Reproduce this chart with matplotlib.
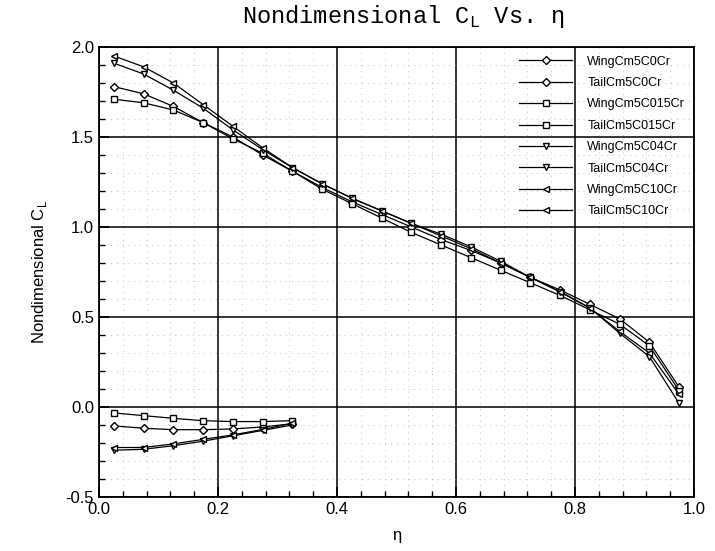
import numpy as np
from matplotlib import pyplot as plt
from matplotlib.ticker import MultipleLocator

eta_wing = [0.025, 0.075, 0.125, 0.175, 0.225, 0.275, 0.325, 0.375, 0.425, 0.475,
            0.525, 0.575, 0.625, 0.675, 0.725, 0.775, 0.825, 0.875, 0.925, 0.975]
eta_tail = [0.025, 0.075, 0.125, 0.175, 0.225, 0.275, 0.325]

wing_c0 = [1.78, 1.74, 1.67, 1.58, 1.50, 1.40, 1.31, 1.22, 1.14, 1.07,
           1.00, 0.93, 0.87, 0.80, 0.72, 0.65, 0.57, 0.49, 0.36, 0.11]
tail_c0 = [-0.105, -0.118, -0.126, -0.126, -0.122, -0.111, -0.093]
wing_c015 = [1.71, 1.69, 1.65, 1.58, 1.49, 1.41, 1.31, 1.21, 1.13, 1.05,
             0.97, 0.90, 0.83, 0.76, 0.69, 0.62, 0.54, 0.46, 0.34, 0.09]
tail_c015 = [-0.033, -0.048, -0.063, -0.076, -0.081, -0.081, -0.076]
wing_c04 = [1.91, 1.85, 1.76, 1.66, 1.54, 1.43, 1.33, 1.24, 1.16, 1.09,
            1.02, 0.96, 0.89, 0.81, 0.72, 0.64, 0.55, 0.41, 0.28, 0.02]
tail_c04 = [-0.24, -0.235, -0.215, -0.19, -0.16, -0.13, -0.10]
wing_c10 = [1.95, 1.89, 1.80, 1.68, 1.56, 1.44, 1.33, 1.24, 1.16, 1.09,
            1.02, 0.95, 0.88, 0.80, 0.72, 0.64, 0.55, 0.42, 0.30, 0.07]
tail_c10 = [-0.225, -0.225, -0.205, -0.18, -0.155, -0.125, -0.09]

labels = ['WingCm5C0Cr', 'TailCm5C0Cr', 'WingCm5C015Cr', 'TailCm5C015Cr',
          'WingCm5C04Cr', 'TailCm5C04Cr', 'WingCm5C10Cr', 'TailCm5C10Cr']


def plotter():
    plt.rcParams['font.family'] = ['Liberation Sans', 'DejaVu Sans']
    fig = plt.figure(figsize=(7.15, 5.51), dpi=100)
    ax = fig.add_axes([99 / 715, 54 / 551, 595 / 715, 450 / 551])

    series = [(eta_wing, wing_c0, 'D', 4), (eta_tail, tail_c0, 'D', 4),
              (eta_wing, wing_c015, 's', 4), (eta_tail, tail_c015, 's', 4),
              (eta_wing, wing_c04, 'v', 5), (eta_tail, tail_c04, 'v', 5),
              (eta_wing, wing_c10, '<', 5), (eta_tail, tail_c10, '<', 5)]
    for (x, y, m, ms), lab in zip(series, labels):
        ax.plot(x, y, c='k', lw=0.9, marker=m, ms=ms, mfc='white', mec='k',
                mew=1.0, label=lab)

    ax.set_xlim(0, 1)
    ax.set_ylim(-0.5, 2.0)
    ax.xaxis.set_major_locator(MultipleLocator(0.2))
    ax.xaxis.set_minor_locator(MultipleLocator(0.04))
    ax.yaxis.set_major_locator(MultipleLocator(0.5))
    ax.yaxis.set_minor_locator(MultipleLocator(0.1))
    ax.set_xticklabels([f'{v:.1f}' for v in ax.get_xticks()])
    ax.set_yticklabels([f'{v:.1f}' for v in ax.get_yticks()])
    ax.tick_params(which='both', direction='in', top=False, right=False,
                   labelsize=12)
    ax.tick_params(which='major', length=7, width=1.2)
    ax.tick_params(which='minor', length=4, width=1)
    for s in ax.spines.values():
        s.set_linewidth(1.3)

    ax.grid(which='major', color='k', lw=1.1)
    ax.grid(which='minor', color='#b0b0b0', lw=0.6, ls=(0, (1, 6)))
    ax.set_axisbelow(True)

    ax.set_xlabel('η', fontsize=12, labelpad=8)
    ax.set_ylabel('Nondimensional C$_\\mathregular{L}$', fontsize=12, labelpad=12)
    fig.text(403 / 715, 1 - 16 / 551, 'Nondimensional C$_\\mathregular{L}$ Vs. η',
             family='Liberation Mono', fontsize=17, ha='center', va='center')

    ax.legend(loc='upper right', frameon=False, fontsize=9,
              handlelength=4.3, handletextpad=1.2, labelspacing=0.75,
              borderaxespad=0.3)
    fig.savefig('out.png', dpi=100)


if __name__ == '__main__':
    plotter()
